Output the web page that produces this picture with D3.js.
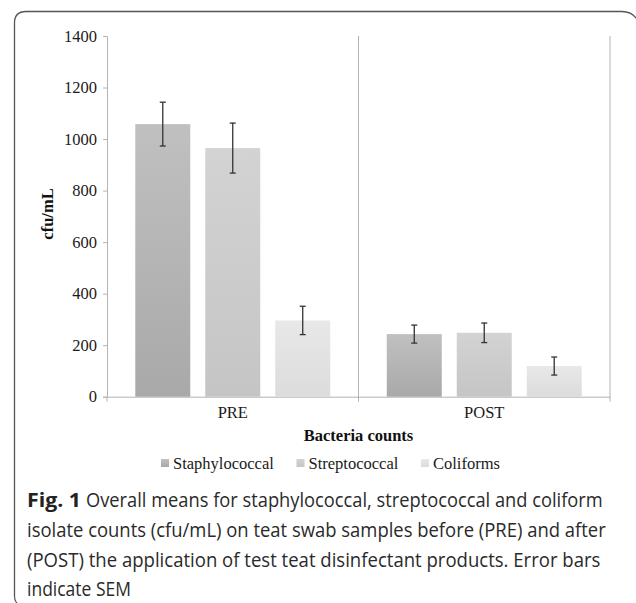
<!DOCTYPE html>
<html>
<head>
<meta charset="utf-8">
<script src="https://cdn.jsdelivr.net/npm/d3@7"></script>
<style>
  body { margin: 0; background: #fff; }
  svg { display: block; }
</style>
</head>
<body>
<div id="chart"></div>
<script>
// data
const groups = ['PRE', 'POST'];
const series = ['Staphylococcal', 'Streptococcal', 'Coliforms'];
const preMeans = [1058, 965, 296];
const preSem = [85, 97, 55];
const postMeans = [243, 248, 119];
const postSem = [35, 38, 35];
const yTicks = [0, 200, 400, 600, 800, 1000, 1200, 1400];
const figLabel = 'Fig. 1';
const captionLines = [
  'Overall means for staphylococcal, streptococcal and coliform',
  'isolate counts (cfu/mL) on teat swab samples before (PRE) and after',
  '(POST) the application of test teat disinfectant products. Error bars',
  'indicate SEM'
];

const W = 636, H = 603;
const serif = '"Liberation Serif", "Times New Roman", serif';
const sans = '"Open Sans", "Noto Sans", sans-serif';
const fs = 16.5;

const svg = d3.select('#chart').append('svg')
  .attr('width', W)
  .attr('height', H);

// bar gradients (top lighter, bottom darker)
const shades = [['#c0c0c0', '#a9a9a9'], ['#d3d3d3', '#c5c5c5'], ['#e8e8e8', '#dcdcdc']];
const defs = svg.append('defs');
shades.forEach((s, i) => {
  const gr = defs.append('linearGradient')
    .attr('id', 'g' + i)
    .attr('x1', 0).attr('y1', 0).attr('x2', 0).attr('y2', 1);
  gr.append('stop').attr('offset', '0%').attr('stop-color', s[0]);
  gr.append('stop').attr('offset', '100%').attr('stop-color', s[1]);
});

// frame around figure
svg.append('path')
  .attr('d', 'M14.5,596 L14.5,23 Q14.5,11.5 26,11.5 L622,11.5 Q631,11.5 636,18')
  .attr('fill', 'none')
  .attr('stroke', '#555')
  .attr('stroke-width', 1.3);
svg.append('path')
  .attr('d', 'M14.5,596 Q14.5,601 17,603')
  .attr('fill', 'none')
  .attr('stroke', '#555')
  .attr('stroke-width', 1.3);

const pLeft = 107, pRight = 610, pTop = 36, pBottom = 396.7;

const y = d3.scaleLinear().domain([0, 1400]).range([pBottom, pTop]);
const x = d3.scaleBand().domain(groups).range([pLeft, pRight]);
const xs = d3.scaleBand().domain(series).range([0, x.bandwidth()])
  .paddingInner(0.214).paddingOuter(0.404);

const rows = groups.map((g, gi) => series.map((s, si) => ({
  group: g,
  series: s,
  idx: si,
  mean: gi === 0 ? preMeans[si] : postMeans[si],
  sem: gi === 0 ? preSem[si] : postSem[si]
})));

// y axis
const yAxis = svg.append('g')
  .attr('transform', `translate(${pLeft},0)`)
  .call(d3.axisLeft(y).tickValues(yTicks).tickFormat(d3.format('d')).tickSize(4).tickPadding(6));
yAxis.select('.domain').attr('stroke', '#b3b3b3');
yAxis.selectAll('.tick line').attr('stroke', '#b3b3b3');
yAxis.selectAll('.tick text')
  .attr('font-family', serif)
  .attr('font-size', fs)
  .attr('fill', '#1a1a1a');

// vertical separators at category boundaries
const bounds = [x('POST'), pRight];
svg.append('g').selectAll('line')
  .data(bounds)
  .join('line')
  .attr('x1', d => d).attr('x2', d => d)
  .attr('y1', pTop).attr('y2', pBottom + 5)
  .attr('stroke', '#b3b3b3')
  .attr('stroke-width', 1);

// x axis
const xAxis = svg.append('g')
  .attr('transform', `translate(0,${pBottom})`)
  .call(d3.axisBottom(x).tickSize(0).tickPadding(10).tickSizeOuter(0));
xAxis.select('.domain').attr('stroke', '#b3b3b3');
xAxis.selectAll('.tick text')
  .attr('font-family', serif)
  .attr('font-size', fs)
  .attr('fill', '#1a1a1a');
svg.append('line')
  .attr('x1', pLeft).attr('x2', pLeft)
  .attr('y1', pBottom).attr('y2', pBottom + 5)
  .attr('stroke', '#b3b3b3');

// bars
const gGroups = svg.append('g').selectAll('g')
  .data(rows)
  .join('g')
  .attr('transform', d => `translate(${x(d[0].group)},0)`);

gGroups.selectAll('rect')
  .data(d => d)
  .join('rect')
  .attr('x', d => xs(d.series))
  .attr('width', xs.bandwidth())
  .attr('y', d => y(d.mean))
  .attr('height', d => y(0) - y(d.mean))
  .attr('fill', d => `url(#g${d.idx})`);

// error bars
const eb = gGroups.selectAll('g.err')
  .data(d => d)
  .join('g')
  .attr('class', 'err')
  .attr('stroke', '#333')
  .attr('stroke-width', 1.3);
const cx = d => xs(d.series) + xs.bandwidth() / 2;
eb.append('line')
  .attr('x1', cx).attr('x2', cx)
  .attr('y1', d => y(d.mean + d.sem))
  .attr('y2', d => y(d.mean - d.sem));
eb.append('line')
  .attr('x1', d => cx(d) - 3).attr('x2', d => cx(d) + 3)
  .attr('y1', d => y(d.mean + d.sem)).attr('y2', d => y(d.mean + d.sem));
eb.append('line')
  .attr('x1', d => cx(d) - 3).attr('x2', d => cx(d) + 3)
  .attr('y1', d => y(d.mean - d.sem)).attr('y2', d => y(d.mean - d.sem));

// axis titles
svg.append('text')
  .attr('transform', 'translate(49,214) rotate(-90)')
  .attr('text-anchor', 'middle')
  .attr('dominant-baseline', 'middle')
  .attr('font-family', serif)
  .attr('font-weight', 'bold')
  .attr('font-size', fs)
  .attr('fill', '#111')
  .text('cfu/mL');

svg.append('text')
  .attr('x', (pLeft + pRight) / 2)
  .attr('y', 441)
  .attr('text-anchor', 'middle')
  .attr('font-family', serif)
  .attr('font-weight', 'bold')
  .attr('font-size', fs)
  .attr('fill', '#111')
  .text('Bacteria counts');

// legend
const legX = [161, 296.5, 421];
const leg = svg.append('g').selectAll('g')
  .data(series)
  .join('g')
  .attr('transform', (d, i) => `translate(${legX[i]},463)`);
leg.append('rect')
  .attr('x', 0).attr('y', -4)
  .attr('width', 8).attr('height', 8)
  .attr('fill', (d, i) => `url(#g${i})`);
leg.append('text')
  .attr('x', 12)
  .attr('y', 5.5)
  .attr('font-family', serif)
  .attr('font-size', fs)
  .attr('fill', '#1a1a1a')
  .text(d => d);

// caption, each line squeezed to the width it has in the figure
function fitText(str, x0, y0, width, bold) {
  const t = svg.append('text')
    .attr('font-family', sans)
    .attr('font-size', 19.5)
    .attr('font-weight', bold ? 'bold' : 'normal')
    .attr('fill', bold ? '#222' : '#2a2a2a')
    .text(str);
  const w = t.node().getBBox().width;
  t.attr('transform', `translate(${x0},${y0}) scale(${width / w},1)`);
}
const capX = [86, 27, 27, 27];
const capW = [517, 579, 574, 104];
const capY = [507, 537, 567, 596];
fitText(figLabel, 27, capY[0], 54, true);
captionLines.forEach((line, i) => fitText(line, capX[i], capY[i], capW[i], false));
</script>
</body>
</html>
